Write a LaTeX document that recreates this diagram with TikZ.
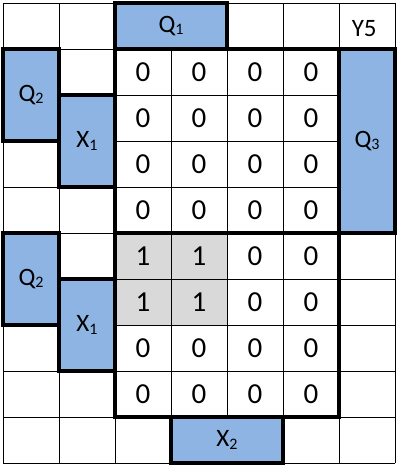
\documentclass[tikz,border=0pt]{standalone}
\usepackage{fontspec}
\setmainfont{Carlito}
\usetikzlibrary{positioning}
\definecolor{blockBlue}{HTML}{8DB4E2}
\definecolor{oneGray}{HTML}{D9D9D9}
\newcommand{\lab}[2]{#1\raisebox{-2.5pt}{\fontsize{16}{16}\selectfont #2}}

\begin{document}
\begin{tikzpicture}[
    x=56pt, y=-46pt,
    block/.style={%
      draw,
      rectangle,
      fill=blockBlue,
      line width=4pt,
      inner sep=0pt, outer sep=0pt,
      font=\fontsize{25}{28}\selectfont,
    },
    cell/.style={%
      font=\fontsize{29}{32}\selectfont,
    },
    heavy/.style={line width=4pt},
  ]
    \useasboundingbox (-0.054,-0.065) rectangle (7.089,10.130);

    \fill [oneGray] (2,5) rectangle (4,7);
    \draw [line width=0.8pt] (0,0) grid [xstep=56pt, ystep=46pt] (7,10);

    \node [block, minimum width=112pt, minimum height=46pt] (Q1) at (3,0.5) {\lab{Q}{1}};
    \node [block, minimum width=56pt, minimum height=92pt] (Q2) at (0.5,2) {\lab{Q}{2}};
    \node [block, minimum width=56pt, minimum height=92pt] (X1) at (1.5,3) {\lab{X}{1}};
    \node [block, minimum width=56pt, minimum height=184pt] (Q3) at (6.5,3) {\lab{Q}{3}};
    \node [block, minimum width=56pt, minimum height=92pt] (Q2b) at (0.5,6) {\lab{Q}{2}};
    \node [block, minimum width=56pt, minimum height=92pt] (X1b) at (1.5,7) {\lab{X}{1}};
    \node [block, minimum width=112pt, minimum height=46pt] (X2) at (4,9.5) {\lab{X}{2}};
    \node [font=\fontsize{25}{28}\selectfont] (Y5) at (6.45,0.55) {Y5};

    \draw [heavy] (2,1) rectangle (6,5);
    \draw [heavy] (2,5) rectangle (6,9);

    % upper map
    \path (2.5,1.5) node [cell] (A1) {0} (3.5,1.5) node [cell] (A2) {0} (4.5,1.5) node [cell] (A3) {0} (5.5,1.5) node [cell] (A4) {0};
    \path (2.5,2.5) node [cell] (B1) {0} (3.5,2.5) node [cell] (B2) {0} (4.5,2.5) node [cell] (B3) {0} (5.5,2.5) node [cell] (B4) {0};
    \path (2.5,3.5) node [cell] (C1) {0} (3.5,3.5) node [cell] (C2) {0} (4.5,3.5) node [cell] (C3) {0} (5.5,3.5) node [cell] (C4) {0};
    \path (2.5,4.5) node [cell] (D1) {0} (3.5,4.5) node [cell] (D2) {0} (4.5,4.5) node [cell] (D3) {0} (5.5,4.5) node [cell] (D4) {0};
    % lower map
    \path (2.5,5.5) node [cell] (E1) {1} (3.5,5.5) node [cell] (E2) {1} (4.5,5.5) node [cell] (E3) {0} (5.5,5.5) node [cell] (E4) {0};
    \path (2.5,6.5) node [cell] (F1) {1} (3.5,6.5) node [cell] (F2) {1} (4.5,6.5) node [cell] (F3) {0} (5.5,6.5) node [cell] (F4) {0};
    \path (2.5,7.5) node [cell] (G1) {0} (3.5,7.5) node [cell] (G2) {0} (4.5,7.5) node [cell] (G3) {0} (5.5,7.5) node [cell] (G4) {0};
    \path (2.5,8.5) node [cell] (H1) {0} (3.5,8.5) node [cell] (H2) {0} (4.5,8.5) node [cell] (H3) {0} (5.5,8.5) node [cell] (H4) {0};
\end{tikzpicture}
\end{document}
